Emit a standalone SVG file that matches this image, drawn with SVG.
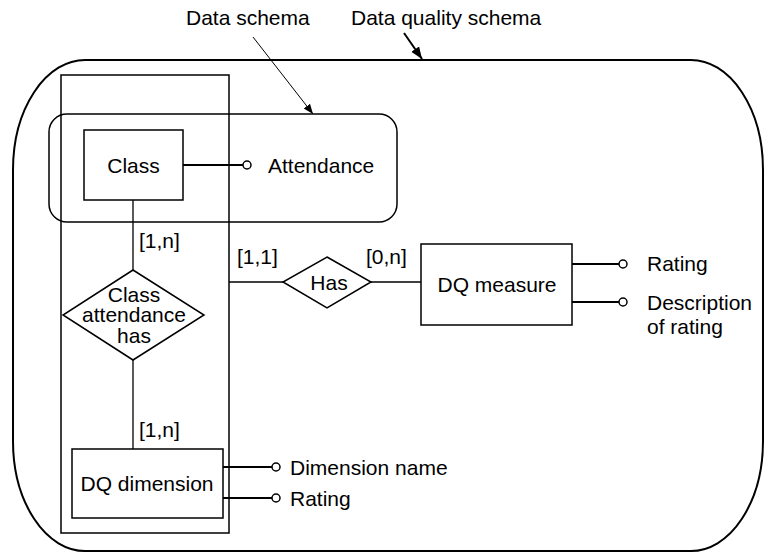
<svg xmlns="http://www.w3.org/2000/svg" width="766" height="555" viewBox="0 0 766 555">
<style>
text{font-family:"Liberation Sans",Arial,sans-serif;font-size:21px;fill:#000}
.b{fill:#fff;stroke:#000;stroke-width:1.5}
.c{fill:none;stroke:#000;stroke-width:1.3}
.a{fill:none;stroke:#000;stroke-width:2}
.o{fill:#fff;stroke:#000;stroke-width:1.5}
.m{text-anchor:middle}
</style>
<defs>
<marker id="ah" viewBox="0 0 10 10" refX="10" refY="5" markerWidth="10" markerHeight="10" markerUnits="userSpaceOnUse" orient="auto"><path d="M0,1 L10,5 L0,9 z" fill="#000"/></marker>
<marker id="ah2" viewBox="0 0 10 10" refX="10" refY="5" markerWidth="6" markerHeight="6" orient="auto"><path d="M0,1 L10,5 L0,9 z" fill="#000"/></marker>
</defs>
<g id="dq-schema">
<rect x="13" y="60" width="750" height="491" rx="72" ry="110" fill="none" stroke="#000" stroke-width="2"/>
<text x="351" y="25">Data quality schema</text>
</g>
<g id="data-schema">
<rect x="49" y="114" width="348" height="108" rx="18" ry="18" fill="none" stroke="#000" stroke-width="1.5"/>
<text x="186" y="25">Data schema</text>
</g>
<g id="tall-frame">
<rect x="61" y="75" width="168" height="458" fill="none" stroke="#000" stroke-width="1.5"/>
</g>
<g id="connectors">
<line x1="253" y1="37" x2="313" y2="114" stroke="#000" stroke-width="1" marker-end="url(#ah)"/>
<line x1="404" y1="33" x2="422" y2="59" stroke="#000" stroke-width="2" marker-end="url(#ah2)"/>
<line class="c" x1="133" y1="200" x2="133" y2="270"/>
<line class="c" x1="133" y1="360" x2="133" y2="449"/>
<line class="c" x1="229" y1="282" x2="283" y2="282"/>
<line class="c" x1="371" y1="282" x2="421" y2="282"/>
<text x="139" y="248">[1,n]</text>
<text x="139" y="437">[1,n]</text>
<text x="237" y="264">[1,1]</text>
<text x="366" y="264">[0,n]</text>
</g>
<g id="class">
<rect class="b" x="84" y="130" width="99" height="70"/>
<text class="m" x="133.5" y="173">Class</text>
<line class="a" x1="183" y1="165" x2="243" y2="165"/>
<circle class="o" cx="247" cy="165" r="4"/>
<text x="268" y="173">Attendance</text>
</g>
<g id="class-attendance-has">
<polygon class="b" points="133,270 204,315 133,360 63,315"/>
<text class="m" x="134" y="302">Class</text>
<text class="m" x="134" y="322">attendance</text>
<text class="m" x="134" y="343">has</text>
</g>
<g id="has">
<polygon class="b" points="327,257 371,282 327,308 283,282"/>
<text class="m" x="329" y="290">Has</text>
</g>
<g id="dq-measure">
<rect class="b" x="421" y="244" width="151" height="81"/>
<text class="m" x="497" y="292">DQ measure</text>
<line class="a" x1="572" y1="264" x2="619" y2="264"/>
<circle class="o" cx="623" cy="264" r="4"/>
<text x="647" y="271">Rating</text>
<line class="a" x1="572" y1="302" x2="619" y2="302"/>
<circle class="o" cx="623" cy="302" r="4"/>
<text x="647" y="310">Description</text>
<text x="647" y="334">of rating</text>
</g>
<g id="dq-dimension">
<rect class="b" x="72" y="449" width="151" height="69"/>
<text class="m" x="147" y="491">DQ dimension</text>
<line class="a" x1="223" y1="467" x2="272" y2="467"/>
<circle class="o" cx="276" cy="467" r="4"/>
<text x="290" y="475">Dimension name</text>
<line class="a" x1="223" y1="498" x2="272" y2="498"/>
<circle class="o" cx="276" cy="498" r="4"/>
<text x="290" y="506">Rating</text>
</g>
</svg>
